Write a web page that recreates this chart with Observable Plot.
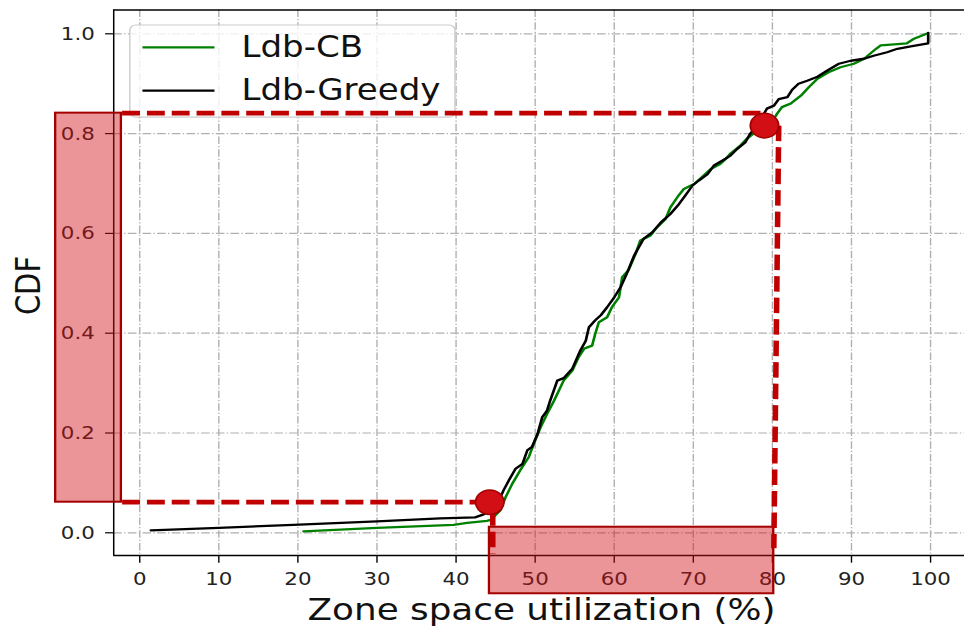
<!DOCTYPE html>
<html>
<head>
<meta charset="utf-8">
<script src="https://cdn.jsdelivr.net/npm/d3@7"></script>
<script src="https://cdn.jsdelivr.net/npm/@observablehq/plot@0.6"></script>
<style>
  html, body { margin: 0; padding: 0; background: white; }
  #chart { width: 964px; height: 626px; overflow: hidden; }
</style>
</head>
<body>
<div id="chart"></div>
<script>
// ---------- data ----------
const xTicks = [0, 10, 20, 30, 40, 50, 60, 70, 80, 90, 100];
const yTicks = [0.0, 0.2, 0.4, 0.6, 0.8, 1.0];
const seriesNames = ["Ldb-CB", "Ldb-Greedy"];
const seriesColors = ["#008000", "#000000"];
const xLabel = "Zone space utilization (%)";
const yLabel = "CDF";

// Ldb-CB (green)
const cbX = [20.7, 30, 39.7, 41.4, 43.9, 44.4, 45.6, 46.25, 47.1, 48.1, 49.2, 50.0, 50.7, 51.5, 52.4, 53.6, 54.7, 55.5, 56.2, 57.2, 57.6, 58.05, 59.1, 59.7, 60.6, 61.0, 61.8, 62.7, 63.3, 64.6, 65.4, 66.5, 67.1, 68.0, 68.8, 70.1, 71.1, 72.2, 73.4, 74.1, 74.7, 75.95, 76.8, 78.0, 79.8, 80.6, 81.2, 82.3, 83.6, 84.6, 85.7, 87.1, 88.6, 90.3, 91.6, 93.1, 93.7, 95.4, 97.0, 97.9, 99.5];
const cbY = [0.003, 0.01, 0.016, 0.02, 0.024, 0.026, 0.045, 0.071, 0.098, 0.125, 0.152, 0.185, 0.212, 0.238, 0.265, 0.305, 0.325, 0.352, 0.369, 0.375, 0.399, 0.422, 0.432, 0.452, 0.472, 0.512, 0.526, 0.559, 0.586, 0.596, 0.612, 0.629, 0.652, 0.673, 0.689, 0.699, 0.713, 0.729, 0.739, 0.749, 0.76, 0.776, 0.79, 0.805, 0.82, 0.84, 0.853, 0.86, 0.876, 0.893, 0.91, 0.923, 0.933, 0.94, 0.95, 0.97, 0.977, 0.979, 0.981, 0.99, 1.0];

// Ldb-Greedy (black)
const grX = [1.4, 10, 19.4, 30, 38, 42.4, 43.5, 44.5, 45.3, 46.0, 46.7, 47.5, 48.4, 49.0, 49.6, 50.3, 50.9, 51.5, 51.9, 52.8, 53.6, 54.7, 55.7, 56.4, 56.8, 57.6, 58.3, 59.1, 60.0, 60.8, 61.6, 62.5, 63.7, 64.8, 65.9, 67.1, 68.2, 69.0, 69.9, 70.7, 71.8, 72.6, 73.7, 74.7, 75.6, 76.6, 77.2, 78.0, 79.3, 80.2, 80.8, 81.9, 82.5, 83.3, 84.4, 85.7, 86.9, 88.4, 89.9, 91.6, 92.8, 94.5, 95.8, 97.5, 99.7, 99.7];
const grY = [0.005, 0.010, 0.016, 0.023, 0.029, 0.031, 0.037, 0.045, 0.06, 0.085, 0.106, 0.128, 0.138, 0.165, 0.172, 0.198, 0.232, 0.245, 0.265, 0.305, 0.31, 0.329, 0.365, 0.385, 0.412, 0.426, 0.436, 0.452, 0.472, 0.492, 0.52, 0.555, 0.589, 0.602, 0.622, 0.639, 0.659, 0.676, 0.696, 0.706, 0.719, 0.736, 0.746, 0.756, 0.77, 0.783, 0.80, 0.815, 0.85, 0.856, 0.869, 0.873, 0.888, 0.9, 0.906, 0.914, 0.926, 0.94, 0.946, 0.95, 0.956, 0.963, 0.97, 0.975, 0.981, 1.002];

// annotation values (data units)
const markPoints = [{x: 44.26, y: 0.0613}, {x: 79.0, y: 0.816}];
const dashSegments = [
  {x1: -2.23, y1: 0.841, x2: 79.0, y2: 0.841},
  {x1: 80.8, y1: 0.816, x2: 80.18, y2: -0.031},
  {x1: -2.23, y1: 0.0613, x2: 43.0, y2: 0.0613},
  {x1: 44.64, y1: 0.045, x2: 44.64, y2: -0.042}
];
const highlightRects = [
  {x1: -10.62, x2: -2.31, y1: 0.0613, y2: 0.841},
  {x1: 44.23, x2: 80.18, y1: -0.1222, y2: 0.0112}
];

// ---------- build ----------
const cb = cbX.map((x, i) => ({x, y: cbY[i]}));
const gr = grX.map((x, i) => ({x, y: grY[i]}));

const W = 835, H = 626;           // drawn width, then stretched to 964
const xDom = [-3.29, 104.3];
const yDom = [-0.0455, 1.0477];

const legendBox = [{x1: -1.18, x2: 39.93, y1: 0.832, y2: 1.0166}];
const legendRows = seriesNames.map((name, i) => ({name, color: seriesColors[i], y: i === 0 ? 0.9726 : 0.8862}));

const grid = {stroke: "#b0b0b0", strokeOpacity: 1, strokeWidth: 1.2, strokeDasharray: "7.5,2,1.2,2"};

const chart = Plot.plot({
  width: W,
  height: H,
  marginLeft: 98,
  marginRight: 0,
  marginTop: 9.5,
  marginBottom: 71,
  style: {fontFamily: "DejaVu Sans", background: "white", color: "black", overflow: "visible"},
  x: {domain: xDom},
  y: {domain: yDom},
  marks: [
    Plot.gridX(xTicks, grid),
    Plot.gridY(yTicks, grid),
    Plot.line(cb, {x: "x", y: "y", stroke: seriesColors[0], strokeWidth: 2.3}),
    Plot.line(gr, {x: "x", y: "y", stroke: seriesColors[1], strokeWidth: 2.3}),
    Plot.ruleX([xDom[0]], {stroke: "black", strokeWidth: 1.3}),
    Plot.ruleY([yDom[0], yDom[1]], {stroke: "black", strokeWidth: 1.3}),
    Plot.axisX(xTicks, {tickSize: 7.7, tickPadding: 9, fontSize: 18.5, label: null, tickFormat: d => String(d), stroke: "black", strokeWidth: 1.2, fill: "#222"}),
    Plot.axisY(yTicks, {tickSize: 7, tickPadding: 9.4, fontSize: 18.5, label: null, tickFormat: d => d.toFixed(1), stroke: "black", strokeWidth: 1.2, fill: "#222"}),
    Plot.text([xLabel], {x: 50.8, y: -0.1547, text: d => d, fontSize: 31, textAnchor: "middle", lineAnchor: "middle", fill: "#111"}),
    Plot.text([yLabel], {x: -14.0, y: 0.4956, text: d => d, fontSize: 29, rotate: -90, textAnchor: "middle", lineAnchor: "middle", fill: "#111"}),
    // legend
    Plot.rect(legendBox, {x1: "x1", x2: "x2", y1: "y1", y2: "y2", fill: "white", fillOpacity: 0.8, stroke: "#cccccc", strokeWidth: 1.2, rx: 5}),
    Plot.link(legendRows, {x1: 0.34, x2: 9.45, y1: "y", y2: "y", stroke: "color", strokeWidth: 2.3}),
    Plot.text(legendRows, {x: 12.86, y: "y", text: "name", fontSize: 29.5, textAnchor: "start", lineAnchor: "middle", fill: "#111"}),
    // annotations
    Plot.rect(highlightRects, {x1: "x1", x2: "x2", y1: "y1", y2: "y2", fill: "#d2141a", fillOpacity: 0.45, stroke: "#a30000", strokeWidth: 2}),
    Plot.link(dashSegments, {x1: "x1", y1: "y1", x2: "x2", y2: "y2", stroke: "#c00000", strokeWidth: 4.8, strokeDasharray: "15.5,6"}),
    Plot.dot(markPoints, {x: "x", y: "y", r: 12.3, fill: "#d20f14", stroke: "#a00000", strokeWidth: 1.5})
  ]
});

chart.setAttribute("width", 964);
chart.setAttribute("height", 626);
chart.setAttribute("preserveAspectRatio", "none");
chart.style.width = "964px";
chart.style.height = "626px";
chart.style.maxWidth = "none";
document.getElementById("chart").appendChild(chart);
</script>
</body>
</html>
